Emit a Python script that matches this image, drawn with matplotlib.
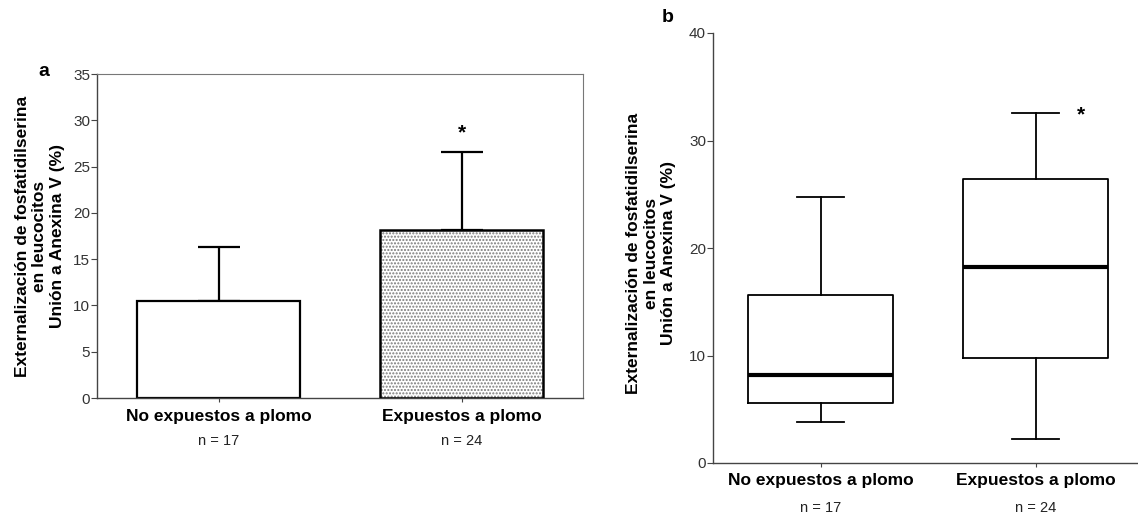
import matplotlib
matplotlib.use("Agg")
import matplotlib.pyplot as plt

plt.rcParams['font.family'] = ['Liberation Sans', 'DejaVu Sans']

# data
grupos = ['No expuestos a plomo', 'Expuestos a plomo']
n_grupo = ['n = 17', 'n = 24']

# panel a: media + DE
media = [10.45, 18.1]
de = [5.9, 8.5]

# panel b: cajas (min, Q1, mediana, Q3, max)
bx_min = [3.8, 2.2]
bx_q1 = [5.6, 9.75]
bx_med = [8.2, 18.2]
bx_q3 = [15.6, 26.4]
bx_max = [24.7, 32.6]

ylabel = 'Externalización de fosfatidilserina\nen leucocitos\nUnión a Anexina V (%)'

W, H = 1138, 517
fig = plt.figure(figsize=(W / 100, H / 100), dpi=100)

def px_axes(l, r, t, b):
    return fig.add_axes([l / W, 1 - b / H, (r - l) / W, (b - t) / H])

tick_col = '#333333'

# ---------- panel a ----------
ax1 = px_axes(97, 583, 74, 398)
x = [0, 1]
ax1.bar(x[0], media[0], width=0.67, color='white', edgecolor='black', linewidth=1.6, zorder=2)
ax1.bar(x[1], media[1], width=0.67, color='white', edgecolor='#7a7a7a', hatch='.....',
        linewidth=0, zorder=2)
ax1.bar(x[1], media[1], width=0.67, fill=False, edgecolor='black', linewidth=1.8, zorder=3)
ax1.errorbar(x, media, yerr=[[0, 0], de], fmt='none', ecolor='black', elinewidth=1.6,
             capsize=15, capthick=1.6, zorder=1)
ax1.text(x[1], 28.6, '*', ha='center', va='center', fontsize=15, fontweight='bold')
ax1.set_xlim(-0.5, 1.5)
ax1.set_ylim(0, 35)
ax1.set_yticks(range(0, 36, 5))
for s in ['top', 'right']:
    ax1.spines[s].set_color('#777777')
    ax1.spines[s].set_linewidth(0.8)
for s in ['left', 'bottom']:
    ax1.spines[s].set_color('#444444')
    ax1.spines[s].set_linewidth(1.0)

# ---------- panel b ----------
ax2 = px_axes(713, 1143, 33, 463)
stats = []
for i in range(2):
    stats.append(dict(whislo=bx_min[i], q1=bx_q1[i], med=bx_med[i], q3=bx_q3[i],
                      whishi=bx_max[i], fliers=[]))
ax2.bxp(stats, positions=x, widths=0.67, showfliers=False,
        boxprops=dict(color='black', linewidth=1.3),
        whiskerprops=dict(color='black', linewidth=1.3),
        capprops=dict(color='black', linewidth=1.3),
        medianprops=dict(color='black', linewidth=3.0),
        capwidths=0.22)
ax2.text(1.21, 32.4, '*', ha='center', va='center', fontsize=15, fontweight='bold')
ax2.set_xlim(-0.5, 1.5)
ax2.set_ylim(0, 40)
ax2.set_yticks(range(0, 41, 10))
ax2.spines['top'].set_visible(False)
ax2.spines['right'].set_visible(False)
for s in ['left', 'bottom']:
    ax2.spines[s].set_color('#444444')
    ax2.spines[s].set_linewidth(1.0)

for ax, off_cat, off_n in [(ax1, 18, 43), (ax2, 18, 45)]:
    ax.set_xticks(x)
    ax.set_xticklabels([])
    ax.tick_params(axis='x', direction='out', length=3, color='#444444')
    ax.tick_params(axis='y', direction='out', length=4, color='#444444',
                   labelsize=11, labelcolor=tick_col, pad=1)
    for i in range(2):
        ax.annotate(grupos[i], xy=(x[i], 0), xycoords=('data', 'axes fraction'),
                    xytext=(0, -off_cat * 0.72), textcoords='offset points',
                    ha='center', va='center', fontsize=12.5, fontweight='bold')
        ax.annotate(n_grupo[i], xy=(x[i], 0), xycoords=('data', 'axes fraction'),
                    xytext=(0, -off_n * 0.72), textcoords='offset points',
                    ha='center', va='center', fontsize=10.5, color='#222222')

fig.text(40 / W, 1 - 236 / H, ylabel, rotation=90, ha='center', va='center',
         multialignment='center', fontsize=12.5, fontweight='bold', linespacing=1.2)
fig.text(651 / W, 1 - 253 / H, ylabel, rotation=90, ha='center', va='center',
         multialignment='center', fontsize=12.5, fontweight='bold', linespacing=1.2)

fig.text(44 / W, 1 - 72 / H, 'a', ha='center', va='center', fontsize=14, fontweight='bold')
fig.text(668 / W, 1 - 18 / H, 'b', ha='center', va='center', fontsize=14, fontweight='bold')

fig.savefig('out.png', dpi=100, facecolor='white')
